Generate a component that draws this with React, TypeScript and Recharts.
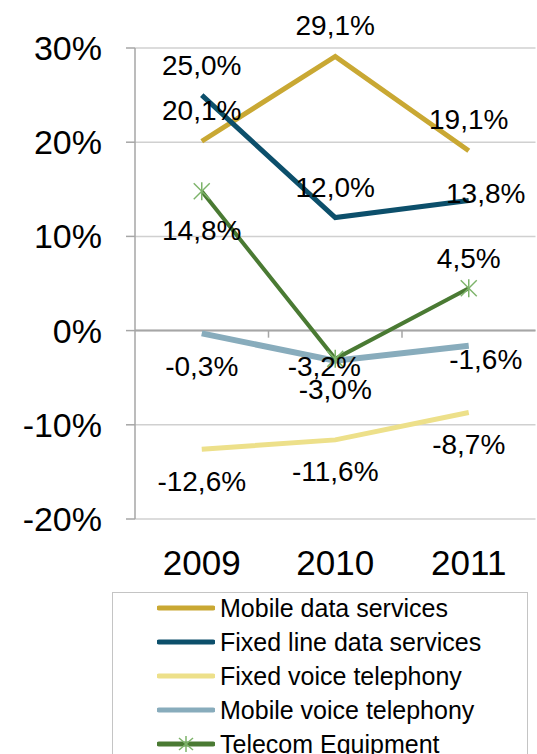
import { LineChart, Line, XAxis, YAxis, CartesianGrid, Legend, ReferenceLine } from 'recharts';

const years = ['2009', '2010', '2011'];
const mobileData = [20.1, 29.1, 19.1];
const fixedLineData = [25.0, 12.0, 13.8];
const fixedVoice = [-12.6, -11.6, -8.7];
const mobileVoice = [-0.3, -3.2, -1.6];
const telecomEquipment = [14.8, -3.0, 4.5];
const yTicks = [-20, -10, 0, 10, 20, 30];

const chartData = years.map((year, i) => ({
  x: i + 0.5,
  year,
  mobileData: mobileData[i],
  fixedLineData: fixedLineData[i],
  fixedVoice: fixedVoice[i],
  mobileVoice: mobileVoice[i],
  telecom: telecomEquipment[i],
}));

const FONT = '"Liberation Sans", Arial, sans-serif';

const series = [
  { key: 'mobileData', name: 'Mobile data services', color: '#C9A833', width: 5, dy: -31 },
  { key: 'fixedLineData', name: 'Fixed line data services', color: '#0C4F6B', width: 5, dy: -30 },
  { key: 'fixedVoice', name: 'Fixed voice telephony', color: '#EDE08A', width: 5, dy: 32 },
  { key: 'mobileVoice', name: 'Mobile voice telephony', color: '#88ACBC', width: 6, dy: 33 },
  { key: 'telecom', name: 'Telecom Equipment', color: '#4A7A33', width: 4, dy: 31 },
];

// hand placed label nudges where Excel moved them around
const nudges: Record<string, [number, number]> = {
  'fixedLineData-2': [17, -7],
  'mobileVoice-1': [-11, 6],
  'mobileVoice-2': [17, 14],
  'telecom-0': [0, 39],
  'telecom-2': [0, -30],
};

const fmt = (v: number) => `${v.toFixed(1).replace('.', ',')}%`;

const makeLabel = (key: string, dy: number) => (props: any) => {
  const { x, y, value, index } = props;
  const [ndx, ndy] = nudges[`${key}-${index}`] ?? [0, dy];
  return (
    <text
      key={`${key}-lbl-${index}`}
      x={x + ndx}
      y={y + ndy}
      textAnchor="middle"
      dominantBaseline="central"
      fontSize={28}
      fill="#000"
    >
      {fmt(value)}
    </text>
  );
};

const Star = (props: any) => {
  const { cx, cy, index } = props;
  if (cx == null || cy == null) return null;
  return (
    <g key={`star-${index}`} stroke="#7DB36A" strokeWidth={1.5}>
      <line x1={cx} y1={cy - 9} x2={cx} y2={cy + 9} />
      <line x1={cx - 8} y1={cy - 8} x2={cx + 8} y2={cy + 8} />
      <line x1={cx - 8} y1={cy + 8} x2={cx + 8} y2={cy - 8} />
    </g>
  );
};

const LegendBox = () => (
  <div
    style={{
      boxSizing: 'border-box',
      width: 416,
      height: 170,
      border: '1.5px solid #C4C4C4',
      background: '#fff',
      fontFamily: FONT,
      fontSize: 25,
      color: '#000',
    }}
  >
    <div style={{ marginTop: -2 }}>
      {series.map((s) => (
        <div key={s.key} style={{ height: 34, display: 'flex', alignItems: 'center' }}>
          <svg width={58} height={20} style={{ marginLeft: 44, marginRight: 5 }}>
            <line x1={2} y1={10} x2={56} y2={10} stroke={s.color} strokeWidth={5} strokeLinecap="round" />
            {s.key === 'telecom' && (
              <g stroke="#7DB36A" strokeWidth={1.5}>
                <line x1={29} y1={2} x2={29} y2={18} />
                <line x1={22} y1={4} x2={36} y2={16} />
                <line x1={22} y1={16} x2={36} y2={4} />
              </g>
            )}
          </svg>
          <span style={{ whiteSpace: 'nowrap' }}>{s.name}</span>
        </div>
      ))}
    </div>
  </div>
);

export default function App() {
  return (
    <div
      style={{
        position: 'absolute',
        left: 0,
        top: 0,
        width: 537,
        height: 754,
        overflow: 'hidden',
        background: '#fff',
        fontFamily: FONT,
      }}
    >
      <LineChart
        width={537}
        height={754}
        data={chartData}
        margin={{ top: 48, right: 1.5, left: 0, bottom: 5 }}
      >
        <CartesianGrid vertical={false} stroke="#D0D0D0" strokeWidth={1.5} />
        <XAxis
          dataKey="x"
          type="number"
          domain={[0, 3]}
          ticks={[0.5, 1.5, 2.5]}
          tickFormatter={(v: number) => years[Math.floor(v)]}
          axisLine={false}
          tickLine={false}
          tickSize={0}
          tickMargin={31}
          height={60}
          tick={{ fontSize: 35, fill: '#000' }}
        />
        <YAxis
          type="number"
          domain={[-20, 30]}
          ticks={yTicks}
          tickFormatter={(v: number) => `${v}%`}
          width={135}
          axisLine={{ stroke: '#A6A6A6', strokeWidth: 1.5 }}
          tickLine={{ stroke: '#A6A6A6', strokeWidth: 1.5 }}
          tickSize={9}
          tickMargin={24}
          tick={{ fontSize: 34, fill: '#000' }}
        />
        <ReferenceLine y={0} stroke="#A6A6A6" strokeWidth={2} />
        <ReferenceLine segment={[{ x: 1, y: 0 }, { x: 1, y: -0.75 }]} stroke="#A6A6A6" strokeWidth={1.5} />
        <ReferenceLine segment={[{ x: 2, y: 0 }, { x: 2, y: -0.75 }]} stroke="#A6A6A6" strokeWidth={1.5} />
        <Legend
          layout="vertical"
          verticalAlign="bottom"
          content={<LegendBox />}
          wrapperStyle={{ left: 112, top: 592, bottom: 'auto', width: 416 }}
        />
        {series.map((s) => (
          <Line
            key={s.key}
            dataKey={s.key}
            name={s.name}
            type="linear"
            stroke={s.color}
            strokeWidth={s.width}
            dot={s.key === 'telecom' ? Star : false}
            activeDot={false}
            label={makeLabel(s.key, s.dy)}
            isAnimationActive={false}
          />
        ))}
      </LineChart>
    </div>
  );
}
